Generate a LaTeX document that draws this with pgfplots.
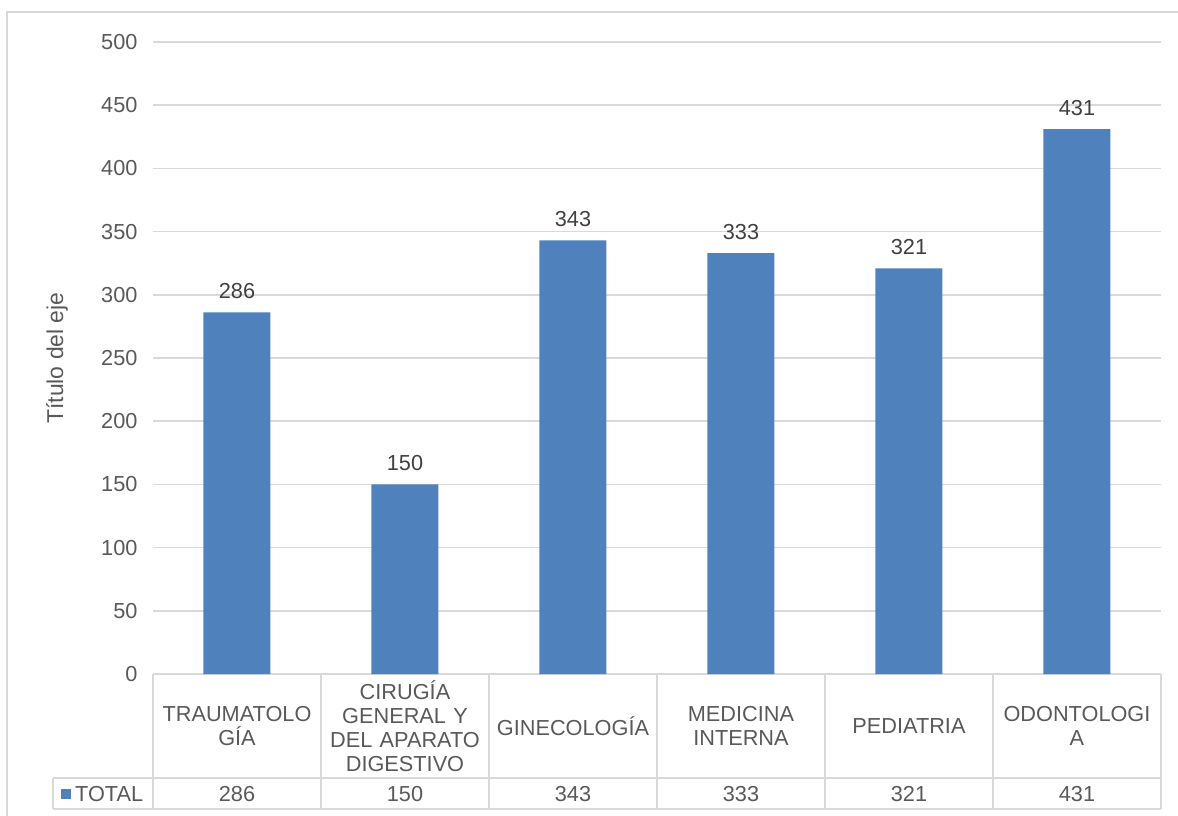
\documentclass[border=0pt]{standalone}
\usepackage{fontspec}
\setmainfont{Liberation Sans}
\usepackage{pgfplots}
\pgfplotsset{compat=1.18}
\definecolor{barblue}{HTML}{4F81BD}
\definecolor{txt}{HTML}{595959}
\definecolor{lbl}{HTML}{404040}
\definecolor{gridc}{HTML}{D9D9D9}
\newcommand{\fs}{\fontsize{21.8}{24}\selectfont}
\begin{document}
\begin{tikzpicture}
\path[use as bounding box] (0bp,0bp) rectangle (1178bp,816bp);
\draw[gridc, line width=1.5bp] (7bp,-2bp) -- (7bp,804bp) -- (1182bp,804bp);
\begin{axis}[
  at={(153bp,142bp)}, anchor=south west,
  scale only axis, width=1008bp, height=632bp,
  xmin=-0.5, xmax=5.5, ymin=0, ymax=500,
  ytick={0,50,...,500},
  xtick={0,...,5},
  xticklabels={{TRAUMATOLO\\GÍA},{CIRUGÍA\\GENERAL Y\\DEL APARATO\\DIGESTIVO},{GINECOLOGÍA},{MEDICINA\\INTERNA},{PEDIATRIA},{ODONTOLOGI\\A}},
  axis line style={draw=none},
  major tick length=0pt,
  ymajorgrids, grid style={gridc, line width=1.5bp},
  /pgf/number format/assume math mode=true,
  yticklabel style={font=\fs, text=txt, xshift=-12bp},
  xticklabel style={font=\fs, text=txt, anchor=center, yshift=-52bp, align=center, text width=165bp},
  ylabel={Título del eje},
  every axis y label/.append style={at={(axis description cs:-0.0952,0.5)}, anchor=center, font=\fontsize{23}{24}\selectfont, text=txt},
  ybar, bar width=67bp, bar shift=0pt,
  nodes near coords,
  nodes near coords style={font=\fs, text=lbl, yshift=10bp},
  clip=false,
]
\addplot[fill=barblue, draw=none] coordinates {(0,286) (1,150) (2,343) (3,333) (4,321) (5,431)};
\node[font=\fs, text=txt] at (axis cs:0,0) [yshift=-120bp] {286};
\node[font=\fs, text=txt] at (axis cs:1,0) [yshift=-120bp] {150};
\node[font=\fs, text=txt] at (axis cs:2,0) [yshift=-120bp] {343};
\node[font=\fs, text=txt] at (axis cs:3,0) [yshift=-120bp] {333};
\node[font=\fs, text=txt] at (axis cs:4,0) [yshift=-120bp] {321};
\node[font=\fs, text=txt] at (axis cs:5,0) [yshift=-120bp] {431};
\end{axis}
\begin{scope}[gridc, line width=1.5bp]
\draw (53bp,38bp) -- (1161bp,38bp);
\draw (53bp,7bp) -- (1161bp,7bp);
\draw (53bp,38bp) -- (53bp,7bp);
\foreach \xx in {153,321,489,657,825,993,1161} \draw (\xx bp,142bp) -- (\xx bp,7bp);
\end{scope}
\fill[barblue] (61bp,17bp) rectangle (71bp,27bp);
\node[font=\fs, text=txt, anchor=base west, inner sep=0pt] at (75bp,14.5bp) {TOTAL};
\end{tikzpicture}
\end{document}
